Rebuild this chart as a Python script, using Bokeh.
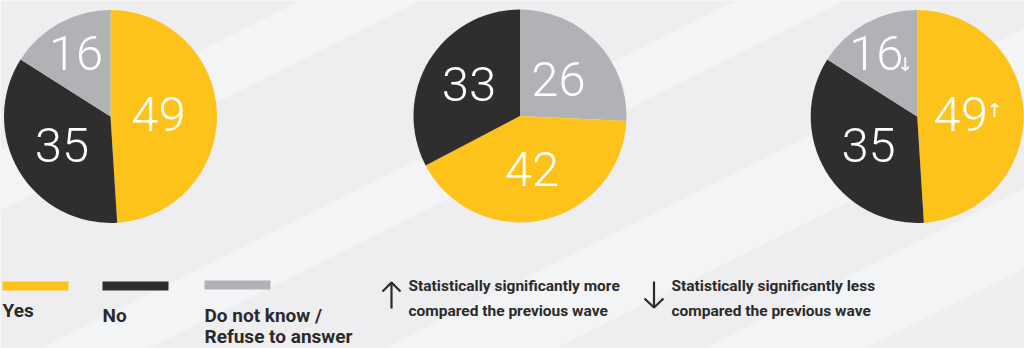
import math
from bokeh.plotting import figure
from bokeh.models import Range1d
from bokeh.core.properties import value
from bokeh.embed import file_html
from bokeh.resources import INLINE

W, H = 1024, 348

# ---------------- data ----------------
categories = ["Yes", "No", "Do not know / Refuse to answer"]
wave_a = [49, 35, 16]          # left pie
wave_b = [42, 33, 26]          # middle pie
wave_c = [49, 35, 16]          # right pie
order_a = [0, 1, 2]            # clockwise order of slices from 12 o'clock
order_b = [2, 0, 1]
order_c = [0, 1, 2]
marks_c = ["\u2191", "", "\u2193"]   # significance markers for right pie
legend_notes = [["Statistically significantly more", "compared the previous wave"],
                ["Statistically significantly less", "compared the previous wave"]]

# ---------------- style / layout ----------------
colors = ["#FDC31A", "#2F2D2E", "#B1B2B5"]
bg = "#EEEEF0"
band = "#F3F4F5"
txt = "#2B2A2B"
R = 106.5
pies = [
    dict(vals=wave_a, order=order_a, cx=110.0, cy=116.0, fr=[0.45, 0.53, 0.67], marks=None),
    dict(vals=wave_b, order=order_b, cx=519.5, cy=115.5, fr=[0.50, 0.52, 0.56], marks=None),
    dict(vals=wave_c, order=order_c, cx=916.7, cy=116.0, fr=[0.47, 0.53, 0.67], marks=marks_c),
]
NUM_FONT = value("Roboto Light")
LEG_FONT = value("Roboto")
BASE_K = 0.37   # empirical baseline correction (fraction of font size)


def Y(sy):
    return H - sy


def base(sy, size):
    """data y for a text whose alphabetic baseline should sit at screen y = sy"""
    return Y(sy - BASE_K * size)


p = figure(width=W, height=H, x_range=Range1d(0, W), y_range=Range1d(0, H),
           output_backend="svg", toolbar_location=None, min_border=0)
p.axis.visible = False
p.grid.visible = False
p.outline_line_color = None
p.background_fill_color = bg
p.border_fill_color = bg

# subtle diagonal background bands
bands = [(150, 210), (368, 422), (540, 625), (700, 780)]
xs, ys = [], []
for b0, b1 in bands:
    X = 2000
    xs.append([0, X, X, 0])
    ys.append([Y(b0), Y(b0 - 0.5 * X), Y(b1 - 0.5 * X), Y(b1)])
p.patches(xs, ys, fill_color=band, line_color=None)

# pies
for pie in pies:
    vals = pie["vals"]
    total = float(sum(vals))
    cum = 0.0
    for k, idx in enumerate(pie["order"]):
        f0 = cum / total
        cum += vals[idx]
        f1 = cum / total
        p.wedge(x=pie["cx"], y=Y(pie["cy"]), radius=R,
                start_angle=math.pi / 2 - 2 * math.pi * f1,
                end_angle=math.pi / 2 - 2 * math.pi * f0,
                fill_color=colors[idx], line_color=None)
        th = 2 * math.pi * (f0 + f1) / 2
        d = pie["fr"][k] * R
        lx = pie["cx"] + d * math.sin(th)
        ly = pie["cy"] - d * math.cos(th)
        mark = pie["marks"][idx] if pie["marks"] else ""
        shift = -6.5 if mark else 0.0
        p.text(x=[lx + shift], y=[base(ly + 17.5, 49)], text=[str(vals[idx])],
               text_font=NUM_FONT, text_font_size="49px", text_color="white",
               text_align="center", text_baseline="alphabetic")
        if mark == "\u2191":
            p.text(x=[lx + shift + 26], y=[base(ly + 2, 19)], text=[mark],
                   text_font=value("DejaVu Sans"), text_font_size="19px", text_color="white",
                   text_align="left", text_baseline="alphabetic")
        elif mark == "\u2193":
            p.text(x=[lx + shift + 21], y=[base(ly + 17, 19)], text=[mark],
                   text_font=value("DejaVu Sans"), text_font_size="19px", text_color="white",
                   text_align="left", text_baseline="alphabetic")

# legend swatches and labels
sw = [(2, 68, 281, 290), (102, 168, 281, 290), (204, 270, 280, 289)]
p.quad(left=[s[0] for s in sw], right=[s[1] for s in sw],
       top=[Y(s[2]) for s in sw], bottom=[Y(s[3]) for s in sw],
       fill_color=colors, line_color=None)
leg_lines = [["Yes"], ["No"], ["Do not know /", "Refuse to answer"]]
leg_base = [317, 322, 322]
for i, lines in enumerate(leg_lines):
    for j, t in enumerate(lines):
        p.text(x=[sw[i][0]], y=[base(leg_base[i] + 21.5 * j, 19)], text=[t],
               text_font=LEG_FONT, text_font_style="bold", text_font_size="19px",
               text_color=txt, text_align="left", text_baseline="alphabetic")

# significance notes with arrows
note_x = [408, 671]
arrow_x = [391, 653.5]
for i, lines in enumerate(legend_notes):
    for j, t in enumerate(lines):
        p.text(x=[note_x[i]], y=[base(291.7 + 25 * j, 15.5)], text=[t],
               text_font=LEG_FONT, text_font_style="bold", text_font_size="15.5px",
               text_color=txt, text_align="left", text_baseline="alphabetic")
ax = arrow_x[0]
p.multi_line([[ax, ax], [ax - 9, ax, ax + 9]],
             [[Y(282), Y(308)], [Y(291), Y(282), Y(291)]],
             line_color=txt, line_width=2.2)
ax = arrow_x[1]
p.multi_line([[ax, ax], [ax - 9.5, ax, ax + 9.5]],
             [[Y(281), Y(307)], [Y(298), Y(307), Y(298)]],
             line_color=txt, line_width=2.2)

open("out.html", "w").write(file_html(p, INLINE))
